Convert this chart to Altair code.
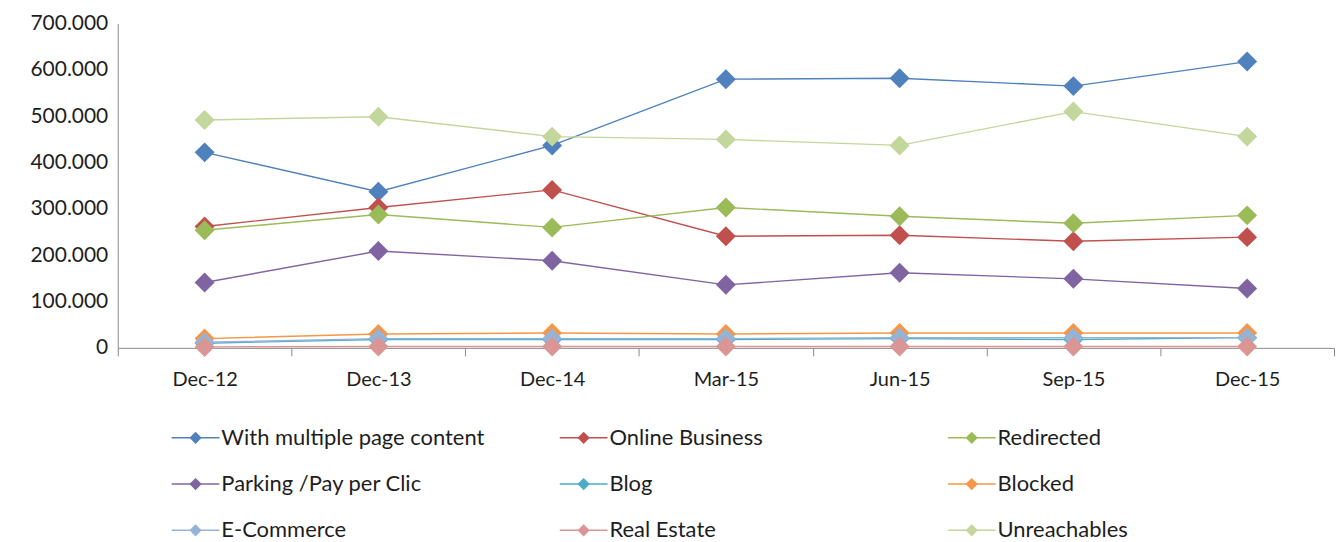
import altair as alt
import pandas as pd

dates = ["Dec-12", "Dec-13", "Dec-14", "Mar-15", "Jun-15", "Sep-15", "Dec-15"]
series_names = [
    "With multiple page content", "Online Business", "Redirected",
    "Parking /Pay per Clic", "Blog", "Blocked",
    "E-Commerce", "Real Estate", "Unreachables",
]
colors = ["#4F81BD", "#C0504D", "#9BBB59", "#8064A2", "#4BACC6", "#F79646",
          "#95B3D7", "#D99694", "#C3D69B"]

with_multiple = [422000, 337000, 437000, 580000, 582000, 565000, 618000]
online_business = [262000, 303000, 341000, 241000, 243000, 230000, 239000]
redirected = [254000, 288000, 260000, 303000, 284000, 269000, 286000]
parking = [141000, 209000, 188000, 136000, 162000, 149000, 128000]
blog = [10000, 18000, 18000, 18000, 20000, 18000, 22000]
blocked = [20000, 30000, 32000, 30000, 32000, 32000, 32000]
ecommerce = [12000, 20000, 20000, 20000, 22000, 22000, 22000]
real_estate = [2000, 3000, 3000, 3000, 3000, 3000, 3000]
unreachables = [492000, 499000, 456000, 450000, 437000, 510000, 456000]

all_values = [with_multiple, online_business, redirected, parking, blog,
              blocked, ecommerce, real_estate, unreachables]

rows = []
for si, (name, vals) in enumerate(zip(series_names, all_values)):
    for di, (d, v) in enumerate(zip(dates, vals)):
        rows.append({"series": name, "order": si, "date": d, "value": v})
df = pd.DataFrame(rows)

FONT = "Lato"
TXT = "#1e1e1e"
color_scale = alt.Scale(domain=series_names, range=colors)

base = alt.Chart(df).encode(
    x=alt.X("date:N", sort=dates, title=None,
            axis=alt.Axis(labelAngle=0, tickBand="extent", ticks=True, tickSize=8,
                          labelPadding=14, labelFontSize=20, labelFont=FONT,
                          labelColor=TXT, domainColor="#8a8a8a",
                          tickColor="#8a8a8a", grid=False)),
    y=alt.Y("value:Q", title=None,
            scale=alt.Scale(domain=[0, 700000], nice=False),
            axis=alt.Axis(values=[0, 100000, 200000, 300000, 400000, 500000, 600000, 700000],
                          labelExpr="datum.value == 0 ? '0' : format(datum.value/1000, 'd') + '.000'",
                          ticks=False, labelPadding=10, labelFontSize=21, labelFont=FONT,
                          labelColor=TXT, domainColor="#8a8a8a", grid=False,
                          minExtent=110, maxExtent=110)),
    color=alt.Color("series:N", scale=color_scale, legend=None),
    detail="series:N",
)

lines = base.mark_line(strokeWidth=1.4)
points = base.mark_point(shape="diamond", filled=True, size=400, opacity=1).encode(
    order=alt.Order("order:Q"))

main = alt.layer(lines, points).properties(width=1219, height=325)

# Legend built from data
leg_rows = []
for i, name in enumerate(series_names):
    leg_rows.append({"series": name, "col": i % 3, "row": i // 3})
leg_df = pd.DataFrame(leg_rows)

lx = alt.Scale(domain=[-0.139, 2.995])
ly = alt.Scale(domain=[-0.5, 2.5], reverse=True)
leg_base = alt.Chart(leg_df).transform_calculate(
    x0="datum.col", x1="datum.col + 0.123", xm="datum.col + 0.0615", xt="datum.col + 0.128"
)
leg_line = leg_base.mark_rule(strokeWidth=1.4).encode(
    x=alt.X("x0:Q", scale=lx, axis=None), x2="x1:Q",
    y=alt.Y("row:Q", scale=ly, axis=None),
    color=alt.Color("series:N", scale=color_scale, legend=None))
leg_pt = leg_base.mark_point(shape="diamond", filled=True, size=150, opacity=1).encode(
    x=alt.X("xm:Q", scale=lx, axis=None),
    y=alt.Y("row:Q", scale=ly, axis=None),
    color=alt.Color("series:N", scale=color_scale, legend=None))
leg_txt = leg_base.mark_text(align="left", baseline="middle", fontSize=22, font=FONT,
                             color=TXT).encode(
    x=alt.X("xt:Q", scale=lx, axis=None),
    y=alt.Y("row:Q", scale=ly, axis=None),
    text="series:N")
legend = alt.layer(leg_line, leg_pt, leg_txt).properties(width=1219, height=139)

chart = alt.vconcat(main, legend, spacing=25).properties(
    padding={"left": 0, "top": 4, "right": 0, "bottom": 0}
).configure(background="white").configure_view(stroke=None)

chart.save("out.html", embed_options={"renderer": "svg", "actions": False})
